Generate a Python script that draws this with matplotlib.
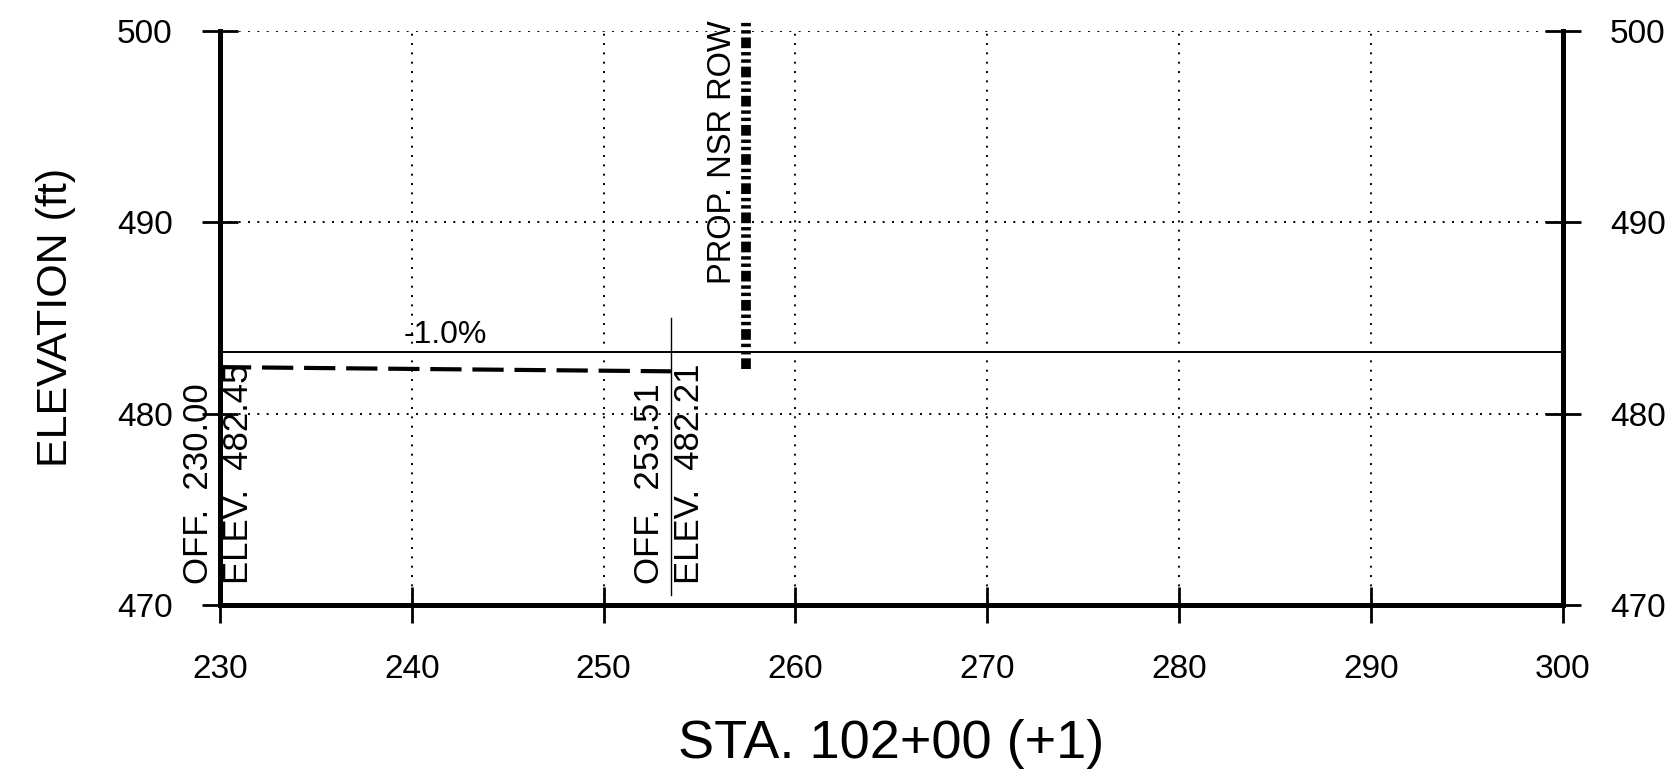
import matplotlib
matplotlib.use("Agg")
import matplotlib.pyplot as plt

plt.rcParams['font.family'] = ['Liberation Sans', 'DejaVu Sans']

# data
x_ticks = [230, 240, 250, 260, 270, 280, 290, 300]
y_ticks = [470, 480, 490, 500]

grade_x = [230, 300]
grade_y = [483.2, 483.2]
grade_label = "-1.0%"

ground_off = [230.00, 253.51]
ground_elev = [482.43, 482.21]
ground_elev_labels = ["482.45", "482.21"]

marker_y = [470.5, 485.0]

row_x = [257.4, 257.4]
row_y = [482.35, 500.55]
row_label = "PROP. NSR ROW"

fig = plt.figure(figsize=(16.66, 7.82), dpi=100)
ax = fig.add_axes([0.132, 0.2263, 0.806, 0.7343])

ax.set_xlim(230, 300)
ax.set_ylim(470, 500)
ax.set_xticks(x_ticks)
ax.set_yticks(y_ticks)

# grid
ax.grid(True, color='black', linestyle=(0, (1, 3.8)), linewidth=1.4)
ax.set_axisbelow(True)

# spines
ax.spines['top'].set_visible(False)
for s in ['left', 'right', 'bottom']:
    ax.spines[s].set_linewidth(3.6)
    ax.spines[s].set_zorder(5)

ax.tick_params(axis='both', direction='inout', length=26, width=2,
               labelsize=24, right=True, labelright=True, top=False)
ax.tick_params(axis='x', pad=22)
ax.tick_params(axis='y', pad=21)

# proposed grade line
ax.plot(grade_x, grade_y, color='black', linewidth=1.4)
ax.text((ground_off[0] + ground_off[1]) / 2, grade_y[0] + 0.1, grade_label,
        ha='center', va='bottom', fontsize=23)

# existing ground (dashed)
ax.plot(ground_off, ground_elev, color='black', linewidth=3,
        dashes=(7.5, 2.6))

# offset markers and labels
for off, elev_lbl in zip(ground_off, ground_elev_labels):
    ax.plot([off, off], marker_y, color='black', linewidth=1.0, clip_on=False)
    ax.text(off - 1.1, 471.1, "OFF.  %.2f" % off, rotation=90,
            ha='center', va='bottom', fontsize=25)
    ax.text(off + 0.95, 471.1, "ELEV.  " + elev_lbl, rotation=90,
            ha='center', va='bottom', fontsize=25)

# proposed ROW line
ax.plot(row_x, row_y, color='black', linewidth=7,
        dashes=(1.1, 0.4, 0.35, 0.4, 0.35, 0.4), clip_on=False, zorder=4)
ax.text(row_x[0] - 1.2, row_y[1], row_label, rotation=90,
        ha='center', va='top', fontsize=23.5)

ax.set_xlabel("STA. 102+00 (+1)", fontsize=39)
ax.set_ylabel("ELEVATION (ft)", fontsize=31)
ax.xaxis.set_label_coords(0.5, -0.198)
ax.yaxis.set_label_coords(-0.107, 0.5)

fig.savefig("out.png", dpi=100)
